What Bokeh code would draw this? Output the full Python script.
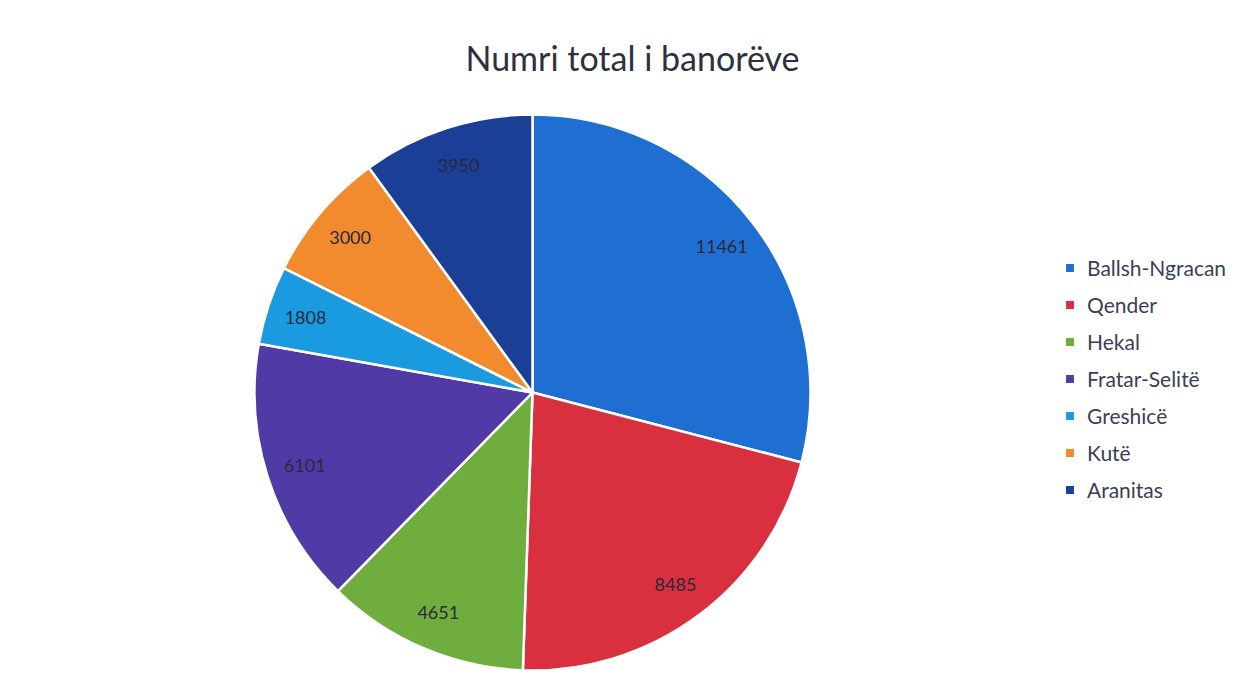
import numpy as np
from bokeh.plotting import figure
from bokeh.models import ColumnDataSource, Label, Legend, LegendItem
from bokeh.core.properties import value
from bokeh.embed import file_html
from bokeh.resources import INLINE

title_text = "Numri total i banorëve"
names = ["Ballsh-Ngracan", "Qender", "Hekal", "Fratar-Selitë", "Greshicë", "Kutë", "Aranitas"]
values = [11461, 8485, 4651, 6101, 1808, 3000, 3950]
colors = ["#1f6fd2", "#d9303f", "#6fae3e", "#4f3aa6", "#1a9be0", "#f28a2e", "#1b3f96"]

W, H = 1231, 677
CX, CY, R = 532, 285, 278

vals = np.array(values, dtype=float)
frac = vals / vals.sum()
cum_end = np.cumsum(frac)
cum_start = cum_end - frac
start = np.pi / 2 - 2 * np.pi * cum_start
end = np.pi / 2 - 2 * np.pi * cum_end
mid = (start + end) / 2
lr = R * 0.86

src = ColumnDataSource(dict(
    name=names, value=values, color=colors, start=start, end=end,
    lx=CX + lr * np.cos(mid), ly=CY + lr * np.sin(mid),
    label=[str(v) for v in values],
))

p = figure(width=W, height=H, x_range=(0, W), y_range=(0, H),
           output_backend="svg", toolbar_location=None, min_border=0,
           background_fill_color="white", border_fill_color="white")
p.axis.visible = False
p.grid.visible = False
p.outline_line_color = None

r = p.wedge(x=CX, y=CY, radius=R, start_angle="start", end_angle="end",
            direction="clock", fill_color="color", line_color="white",
            line_width=2.5, source=src)

p.text(x="lx", y="ly", text="label", source=src, text_align="center",
       text_baseline="middle", text_font=value("Lato"), text_font_size="18px",
       text_color="#2a2a3a")

legend = Legend(items=[LegendItem(label=n, renderers=[r], index=i) for i, n in enumerate(names)],
                location=(1063, 175), orientation="vertical",
                glyph_width=13, glyph_height=13, label_height=25, spacing=12,
                label_standoff=11, padding=0, margin=0, border_line_color=None,
                background_fill_alpha=0, label_text_font="Lato",
                label_text_font_size="21px", label_text_color="#3a3f55")
p.add_layout(legend, "center")

p.add_layout(Label(x=632, y=H - 57, x_units="screen", y_units="screen",
                   text=title_text, text_align="center", text_baseline="middle",
                   text_font="Lato", text_font_size="34px", text_color="#2e3040"))

open("out.html", "w").write(file_html(p, INLINE))
